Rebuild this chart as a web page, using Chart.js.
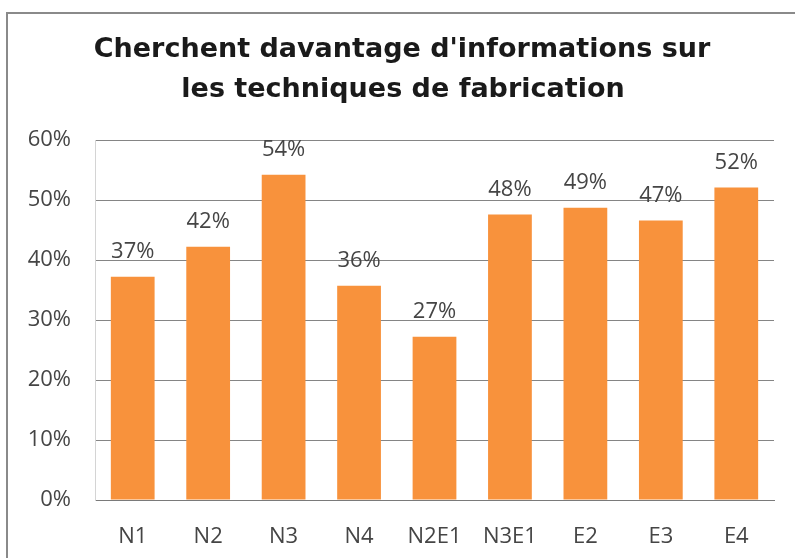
<!DOCTYPE html>
<html>
<head>
<meta charset="utf-8">
<script src="https://cdn.jsdelivr.net/npm/chart.js@4.4.1/dist/chart.umd.min.js"></script>
<style>
  html, body { margin: 0; padding: 0; background: #ffffff; }
  #wrap { width: 795px; height: 558px; position: relative; }
</style>
</head>
<body>
<div id="wrap"><canvas id="c" width="795" height="558"></canvas></div>
<script>
const titleLines = ["Cherchent davantage d'informations sur", "les techniques de fabrication"];
const categories = ["N1", "N2", "N3", "N4", "N2E1", "N3E1", "E2", "E3", "E4"];
const values = [37.2, 42.2, 54.2, 35.7, 27.2, 47.6, 48.7, 46.6, 52.1];
const valueLabels = ["37%", "42%", "54%", "36%", "27%", "48%", "49%", "47%", "52%"];
const yTicks = [0, 10, 20, 30, 40, 50, 60];

const textColor = '#454545';
const tickFont = { family: "'Open Sans', sans-serif", size: 22 };

const framePlugin = {
  id: 'frame',
  beforeDraw(chart) {
    const ctx = chart.ctx;
    ctx.save();
    ctx.fillStyle = '#ffffff';
    ctx.fillRect(0, 0, chart.width, chart.height);
    ctx.strokeStyle = '#8a8a8a';
    ctx.lineWidth = 2;
    ctx.beginPath();
    ctx.moveTo(7, chart.height + 5);
    ctx.lineTo(7, 13);
    ctx.lineTo(chart.width + 5, 13);
    ctx.stroke();
    ctx.restore();
  }
};

const titlePlugin = {
  id: 'twoLineTitle',
  afterDraw(chart) {
    const ctx = chart.ctx;
    ctx.save();
    ctx.fillStyle = '#1a1a1a';
    ctx.font = "bold 27px 'DejaVu Sans', sans-serif";
    ctx.textAlign = 'center';
    ctx.textBaseline = 'middle';
    ctx.fillText(titleLines[0], 402, 50);
    ctx.fillText(titleLines[1], 403, 90);
    ctx.restore();
  }
};

const valueLabelPlugin = {
  id: 'valueLabels',
  afterDatasetsDraw(chart) {
    const ctx = chart.ctx;
    const meta = chart.getDatasetMeta(0);
    ctx.save();
    ctx.fillStyle = textColor;
    ctx.font = "22px 'Open Sans', sans-serif";
    ctx.textAlign = 'center';
    ctx.textBaseline = 'middle';
    meta.data.forEach((bar, i) => {
      ctx.fillText(valueLabels[i], bar.x, bar.y - 25);
    });
    ctx.restore();
  }
};

new Chart(document.getElementById('c'), {
  type: 'bar',
  data: {
    labels: categories,
    datasets: [{
      data: values,
      backgroundColor: '#F8923C',
      borderWidth: 0,
      categoryPercentage: 1.0,
      barPercentage: 0.58
    }]
  },
  options: {
    responsive: false,
    animation: false,
    devicePixelRatio: 1,
    layout: { padding: { top: 140, right: 21, left: 0, bottom: 0 } },
    plugins: {
      legend: { display: false },
      title: { display: false },
      tooltip: { enabled: false }
    },
    scales: {
      x: {
        grid: { display: false },
        border: { display: true, color: '#7a7a7a', width: 1 },
        ticks: { color: textColor, font: tickFont, padding: 16, maxRotation: 0 },
        afterFit(s) { s.height = 58; }
      },
      y: {
        min: 0,
        max: 60,
        afterBuildTicks(s) { s.ticks = yTicks.map(v => ({ value: v })); },
        grid: { color: '#858585', lineWidth: 1, drawTicks: false },
        border: { display: true, color: '#d4d4d4', width: 1 },
        ticks: {
          color: textColor,
          font: tickFont,
          padding: 24,
          callback: v => v + '%'
        },
        afterFit(s) { s.width = 95; }
      }
    }
  },
  plugins: [framePlugin, titlePlugin, valueLabelPlugin]
});
</script>
</body>
</html>
